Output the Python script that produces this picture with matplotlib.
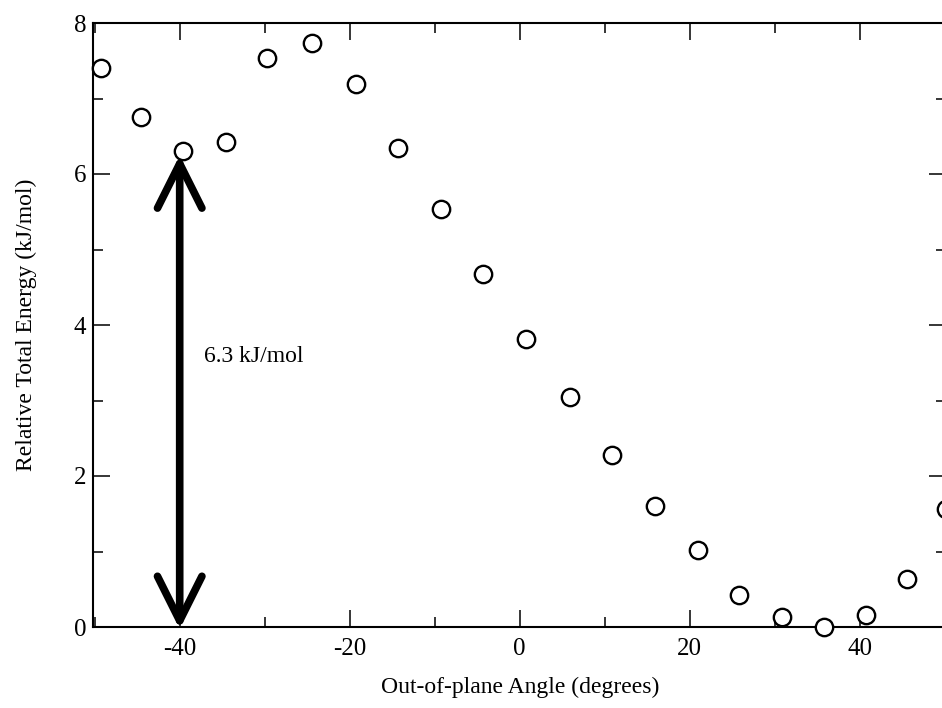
import matplotlib
matplotlib.use('Agg')

import matplotlib.pyplot as plt
from matplotlib.ticker import MultipleLocator

# Data.
angle = [-49.3, -44.5, -39.6, -34.6, -29.7, -24.4, -19.3, -14.3, -9.3, -4.3, 0.7,
         5.9, 10.9, 15.9, 21.0, 25.8, 30.8, 35.8, 40.7, 45.6, 50.2]
energy = [7.40, 6.75, 6.30, 6.43, 7.53, 7.74, 7.19, 6.35, 5.54, 4.68, 3.81,
          3.04, 2.28, 1.60, 1.02, 0.42, 0.13, 0.00, 0.16, 0.64, 1.56]
barrier_x = -40
barrier_top = 6.25
barrier_label = '6.3 kJ/mol'

plt.rcParams['font.family'] = ['Liberation Serif', 'DejaVu Serif']
plt.rcParams['axes.unicode_minus'] = False

def makePlot():
    fig = plt.figure(figsize=(9.42, 7.08), dpi=100)
    # right edge of the axes runs off the page, like the scan
    ax = fig.add_axes([93 / 942, 81 / 708, 853.4 / 942, 604 / 708])

    ax.plot(angle, energy, 'o', ms=12.5, mfc='white', mec='black', mew=1.7,
            clip_on=False, zorder=3)

    # Barrier arrow.
    ax.annotate('', xy=(barrier_x, barrier_top), xytext=(barrier_x, -0.03),
                arrowprops=dict(arrowstyle='<->,head_length=1.6,head_width=0.8',
                                lw=5.5, color='black', mutation_scale=20,
                                shrinkA=0, shrinkB=0),
                annotation_clip=False)
    ax.text(-37.2, 3.58, barrier_label, fontsize=17, va='center', ha='left')

    # Axes.
    ax.set_xlim(-50.2, 50.2)
    ax.set_ylim(0, 8)
    ax.xaxis.set_major_locator(MultipleLocator(20))
    ax.xaxis.set_minor_locator(MultipleLocator(10))
    ax.yaxis.set_major_locator(MultipleLocator(2))
    ax.yaxis.set_minor_locator(MultipleLocator(1))
    ax.tick_params(which='both', direction='in', top=True, right=True,
                   labelsize=18, width=1.1)
    ax.tick_params(which='major', length=12)
    ax.tick_params(axis='x', which='major', pad=8)
    ax.tick_params(axis='y', which='major', pad=5)
    ax.tick_params(which='minor', length=7)
    for s in ax.spines.values():
        s.set_linewidth(1.5)

    ax.set_xlabel('Out-of-plane Angle (degrees)', fontsize=17, labelpad=12)
    ax.set_ylabel('Relative Total Energy (kJ/mol)', fontsize=17, labelpad=26)

    plt.savefig('out.png', dpi=100)

def main():
    makePlot()

if __name__ == '__main__':
    main()
